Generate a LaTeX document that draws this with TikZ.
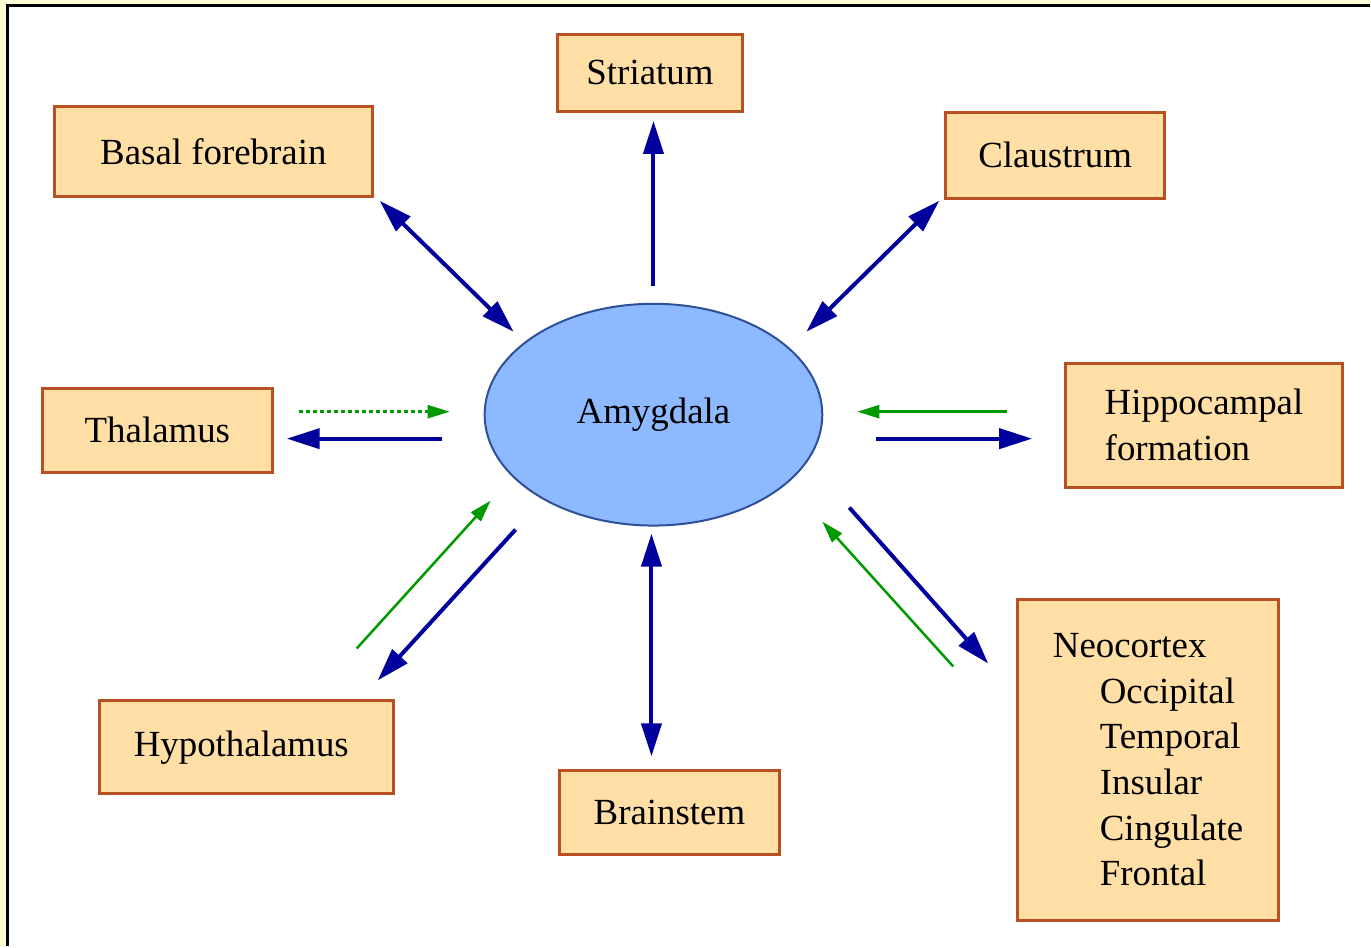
\documentclass[tikz,border=0pt]{standalone}
\usepackage{fontspec}
\setmainfont{Liberation Serif}
\usetikzlibrary{arrows.meta,shapes.geometric}
\definecolor{pagebg}{RGB}{255,255,214}
\definecolor{boxfill}{RGB}{255,223,165}
\definecolor{boxline}{RGB}{184,80,34}
\definecolor{ellfill}{RGB}{140,185,255}
\definecolor{ellline}{RGB}{46,80,150}
\definecolor{navy}{RGB}{0,0,156}
\definecolor{leafgreen}{RGB}{0,153,0}
\tikzset{
  region/.style={draw=boxline, fill=boxfill, line width=0.06cm, inner sep=0pt,
    font=\fontsize{21}{26}\selectfont},
  core/.style={ellipse, draw=ellline, fill=ellfill, line width=0.04cm, inner sep=0pt,
    minimum width=6.76cm, minimum height=4.44cm, font=\fontsize{21}{26}\selectfont},
  bluelink/.style={draw=navy, line width=0.08cm},
  greenlink/.style={draw=leafgreen, line width=0.05cm},
  bluehead/.style={-{Triangle[length=0.66cm,width=0.4cm]}},
  bluebothheads/.style={{Triangle[length=0.66cm,width=0.4cm]}-{Triangle[length=0.66cm,width=0.4cm]}},
  greenhead/.style={-{Triangle[length=0.44cm,width=0.26cm]}},
}
\begin{document}
\begin{tikzpicture}[x=0.02cm, y=-0.02cm]
  % canvas and frame
  \fill[pagebg] (0,0) rectangle (1371,947);
  \fill[white] (7.5,5.5) rectangle (1371,947);
  \draw[black, line width=0.045cm] (7.5,947) -- (7.5,5.5) -- (1371,5.5);
  \useasboundingbox (0,0) rectangle (1371,947);

  % regions
  \node[core] (amy) at (654,415) {Amygdala};
  \node[region, minimum width=6.36cm, minimum height=1.8cm] (bf) at (213.5,151.5) {Basal forebrain};
  \node[region, minimum width=3.72cm, minimum height=1.54cm] (str) at (650.5,73) {Striatum};
  \node[region, minimum width=4.38cm, minimum height=1.72cm] (cla) at (1056,155.5) {Claustrum};
  \node[region, minimum width=4.6cm, minimum height=1.68cm] (tha) at (157.5,430.5) {Thalamus};
  \node[region, minimum width=5.54cm, minimum height=2.48cm, align=left] (hip) at (1205,425.5) {Hippocampal\\formation};
  \node[region, minimum width=5.88cm, minimum height=1.86cm] (hyp) at (246.5,748) {\hspace*{-0.2cm}Hypothalamus};
  \node[region, minimum width=4.42cm, minimum height=1.68cm] (bst) at (670,813.5) {Brainstem};
  \node[region, minimum width=5.22cm, minimum height=6.44cm, align=left] (neo) at (1149,760.5)
    {Neocortex\\\hspace*{0.94cm}Occipital\\\hspace*{0.94cm}Temporal\\\hspace*{0.94cm}Insular\\\hspace*{0.94cm}Cingulate\hspace*{0.16cm}\\\hspace*{0.94cm}Frontal};

  % connector end points
  \coordinate (bfA) at (380,201);   \coordinate (bfB) at (514,332);
  \coordinate (strA) at (654,286);  \coordinate (strB) at (654,121);
  \coordinate (claA) at (940,201);  \coordinate (claB) at (807,332);
  \coordinate (thaGA) at (299,412); \coordinate (thaGB) at (450,412);
  \coordinate (thaBA) at (442,439); \coordinate (thaBB) at (287,439);
  \coordinate (hipGA) at (1008,412); \coordinate (hipGB) at (858,412);
  \coordinate (hipBA) at (877,439); \coordinate (hipBB) at (1033,439);
  \coordinate (hypGA) at (357,649); \coordinate (hypGB) at (491,501);
  \coordinate (hypBA) at (516,530); \coordinate (hypBB) at (378,681);
  \coordinate (bstA) at (652,534);  \coordinate (bstB) at (652,757);
  \coordinate (neoBA) at (850,508); \coordinate (neoBB) at (989,664);
  \coordinate (neoGA) at (954,667); \coordinate (neoGB) at (823,522);

  % connectors
  \draw[bluelink, bluebothheads] (bfA) -- (bfB);
  \draw[bluelink, bluehead] (strA) -- (strB);
  \draw[bluelink, bluebothheads] (claA) -- (claB);
  \draw[greenlink, greenhead, dash pattern=on 0.08cm off 0.06cm] (thaGA) -- (thaGB);
  \draw[bluelink, bluehead] (thaBA) -- (thaBB);
  \draw[greenlink, greenhead] (hipGA) -- (hipGB);
  \draw[bluelink, bluehead] (hipBA) -- (hipBB);
  \draw[greenlink, greenhead] (hypGA) -- (hypGB);
  \draw[bluelink, bluehead] (hypBA) -- (hypBB);
  \draw[bluelink, bluebothheads] (bstA) -- (bstB);
  \draw[bluelink, bluehead] (neoBA) -- (neoBB);
  \draw[greenlink, greenhead] (neoGA) -- (neoGB);
\end{tikzpicture}
\end{document}
